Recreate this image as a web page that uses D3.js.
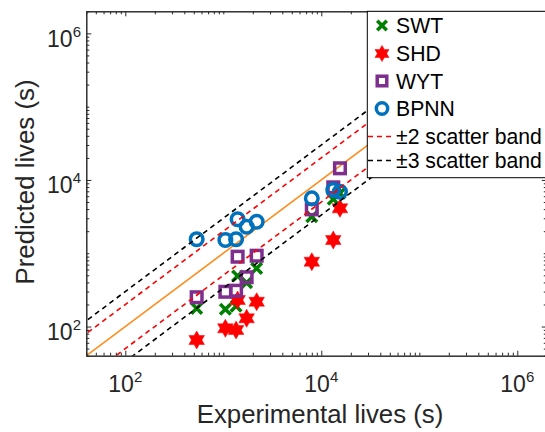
<!DOCTYPE html>
<html>
<head>
<meta charset="utf-8">
<script src="https://cdn.jsdelivr.net/npm/d3@7"></script>
<style>
  body { margin: 0; background: #fff; }
  svg { display: block; font-family: "Liberation Sans", Arial, sans-serif; }
</style>
</head>
<body>
<div id="chart"></div>
<script>
// experimental lives (s) shared by all models
const experimental = [535, 1050, 1350, 1400, 1730, 2190, 8000, 13250, 15500];
const swtPred  = [177, 172, 190, 489, 396, 622, 3150, 5450, 6580];
const shdPred  = [65.5, 94.6, 89.7, 230, 129.5, 218, 766, 1514, 4100];
const wytPred  = [251, 298, 308, 897, 470, 925, 3970, 7925, 14420];
const bpnnPred = [1549, 1514, 1549, 2904, 2300, 2692, 5610, 7295, 6900];

const seriesNames = ["SWT", "SHD", "WYT", "BPNN"];
const bandNames = ["\u00b12 scatter band", "\u00b13 scatter band"];
const majorExp = [2, 4, 6];   // tick labels 10^2, 10^4, 10^6

const w = 545, h = 432;
const mLeft = 86.3, mRight = 546.8, mTop = 11.3, mBottom = 355.7;
const axisColor = "#262626";

const svg = d3.select("#chart").append("svg")
  .attr("width", w).attr("height", h);

const x = d3.scaleLog().domain([40, 2e6]).range([mLeft, mRight]);
const y = d3.scaleLog().domain([40, 2e6]).range([mBottom, mTop]);

// tick values
let minor = [];
for (let k = 1; k <= 6; k++) {
  for (let m = 1; m <= 9; m++) {
    let v = m * Math.pow(10, k);
    if (v >= 40 && v <= 2e6 && !(m == 1 && k % 2 == 0)) minor.push(v);
  }
}
const major = majorExp.map(e => Math.pow(10, e));

svg.append("defs").append("clipPath").attr("id", "clip")
  .append("rect").attr("x", mLeft).attr("y", mTop)
  .attr("width", mRight - mLeft).attr("height", mBottom - mTop);

const plot = svg.append("g").attr("clip-path", "url(#clip)");

// markers
function starPath(R) {
  let r = R / Math.sqrt(3), pts = [];
  for (let i = 0; i < 12; i++) {
    let a = (-90 + i * 30) * Math.PI / 180;
    let rr = i % 2 == 0 ? R : r;
    pts.push([rr * Math.cos(a), rr * Math.sin(a)]);
  }
  return "M" + pts.map(p => p[0].toFixed(2) + "," + p[1].toFixed(2)).join("L") + "Z";
}

function drawMarker(g, type, cx, cy, s) {
  s = s || 1;
  if (type == "SWT") {
    let d = 5.3 * s;
    g.append("path")
      .attr("d", `M${cx - d},${cy - d}L${cx + d},${cy + d}M${cx - d},${cy + d}L${cx + d},${cy - d}`)
      .attr("stroke", "#008000").attr("stroke-width", 3.5).attr("fill", "none");
  } else if (type == "SHD") {
    g.append("path").attr("d", starPath(9 * s))
      .attr("transform", `translate(${cx},${cy})`)
      .attr("fill", "#ff0000").attr("stroke", "#ff0000").attr("stroke-width", 0.5);
  } else if (type == "WYT") {
    let d = 5.3 * s;
    g.append("rect").attr("x", cx - d).attr("y", cy - d)
      .attr("width", 2 * d).attr("height", 2 * d)
      .attr("fill", "none").attr("stroke", "#7e2f8e").attr("stroke-width", 3.5);
  } else {
    g.append("circle").attr("cx", cx).attr("cy", cy).attr("r", 6.3 * s)
      .attr("fill", "none").attr("stroke", "#0072bd").attr("stroke-width", 3.5);
  }
}

// orange 1:1 line
const lineGen = d3.line().x(d => x(d[0])).y(d => y(d[1]));
plot.append("path")
  .attr("d", lineGen([[40, 40], [2e6, 2e6]]))
  .attr("stroke", "#ff8c1a").attr("stroke-width", 1.6).attr("fill", "none");

const preds = [swtPred, shdPred, wytPred, bpnnPred];
seriesNames.forEach((name, si) => {
  const g = plot.append("g");
  experimental.forEach((e, i) => drawMarker(g, name, x(e), y(preds[si][i])));
});

// scatter bands
const bands = [
  { f: [2, 0.5], color: "#ff0000" },
  { f: [3, 1 / 3], color: "#000000" }
];
bands.forEach(b => {
  b.f.forEach(f => {
    plot.append("path")
      .attr("d", lineGen([[1, f], [1e7, 1e7 * f]]))
      .attr("stroke", b.color).attr("stroke-width", 1.6)
      .attr("stroke-dasharray", "5,4").attr("fill", "none");
  });
});

// axes (ticks inward, box on)
function styleAxis(g) {
  g.selectAll("path,line").attr("stroke", axisColor).attr("stroke-width", 1);
  g.selectAll("text").remove();
}
svg.append("g").attr("transform", `translate(0,${mBottom})`)
  .call(d3.axisBottom(x).tickValues(minor).tickSize(-3).tickSizeOuter(0).tickFormat("")).call(styleAxis);
svg.append("g").attr("transform", `translate(0,${mBottom})`)
  .call(d3.axisBottom(x).tickValues(major).tickSize(-5).tickSizeOuter(0).tickFormat("")).call(styleAxis);
svg.append("g").attr("transform", `translate(0,${mTop})`)
  .call(d3.axisTop(x).tickValues(minor).tickSize(-3).tickSizeOuter(0).tickFormat("")).call(styleAxis);
svg.append("g").attr("transform", `translate(0,${mTop})`)
  .call(d3.axisTop(x).tickValues(major).tickSize(-5).tickSizeOuter(0).tickFormat("")).call(styleAxis);
svg.append("g").attr("transform", `translate(${mLeft},0)`)
  .call(d3.axisLeft(y).tickValues(minor).tickSize(-3).tickSizeOuter(0).tickFormat("")).call(styleAxis);
svg.append("g").attr("transform", `translate(${mLeft},0)`)
  .call(d3.axisLeft(y).tickValues(major).tickSize(-5).tickSizeOuter(0).tickFormat("")).call(styleAxis);
svg.append("g").attr("transform", `translate(${mRight},0)`)
  .call(d3.axisRight(y).tickValues(minor).tickSize(-3).tickSizeOuter(0).tickFormat("")).call(styleAxis);
svg.append("g").attr("transform", `translate(${mRight},0)`)
  .call(d3.axisRight(y).tickValues(major).tickSize(-5).tickSizeOuter(0).tickFormat("")).call(styleAxis);

// tick labels
majorExp.forEach(e => {
  const v = Math.pow(10, e);
  const tx = svg.append("text").attr("x", x(v)).attr("y", mBottom + 36)
    .attr("text-anchor", "middle").attr("fill", axisColor).attr("font-size", 23);
  tx.append("tspan").text("10");
  tx.append("tspan").attr("font-size", 15).attr("dy", -10).text(e);

  const ty = svg.append("text").attr("x", 81).attr("y", y(v) + 13.4)
    .attr("text-anchor", "end").attr("fill", axisColor).attr("font-size", 23);
  ty.append("tspan").text("10");
  ty.append("tspan").attr("font-size", 15).attr("dy", -10).text(e);
});

// axis titles
svg.append("text").attr("x", 320).attr("y", 423)
  .attr("text-anchor", "middle").attr("fill", axisColor).attr("font-size", 25.8)
  .text("Experimental lives (s)");
svg.append("text").attr("transform", "translate(34,182) rotate(-90)")
  .attr("text-anchor", "middle").attr("fill", axisColor).attr("font-size", 25.8)
  .text("Predicted lives (s)");

// legend
const leg = svg.append("g");
leg.append("rect").attr("x", 367.3).attr("y", mTop).attr("width", 200).attr("height", 177.7 - mTop)
  .attr("fill", "#fff").attr("stroke", "#000").attr("stroke-width", 1);
const rowY = [25.5, 53.5, 81, 108.5, 136.5, 160.5];
seriesNames.forEach((name, i) => {
  drawMarker(leg, name, 382, rowY[i], 0.9);
  leg.append("text").attr("x", 396).attr("y", rowY[i] + 7.6)
    .attr("font-size", 21.2).attr("fill", "#000").text(name);
});
bandNames.forEach((name, i) => {
  const ry = rowY[4 + i];
  leg.append("line").attr("x1", 368).attr("x2", 395).attr("y1", ry).attr("y2", ry)
    .attr("stroke", bands[i].color).attr("stroke-width", 1.6).attr("stroke-dasharray", "5,4");
  leg.append("text").attr("x", 396).attr("y", ry + 7.6)
    .attr("font-size", 21.2).attr("fill", "#000").text(name);
});
</script>
</body>
</html>
